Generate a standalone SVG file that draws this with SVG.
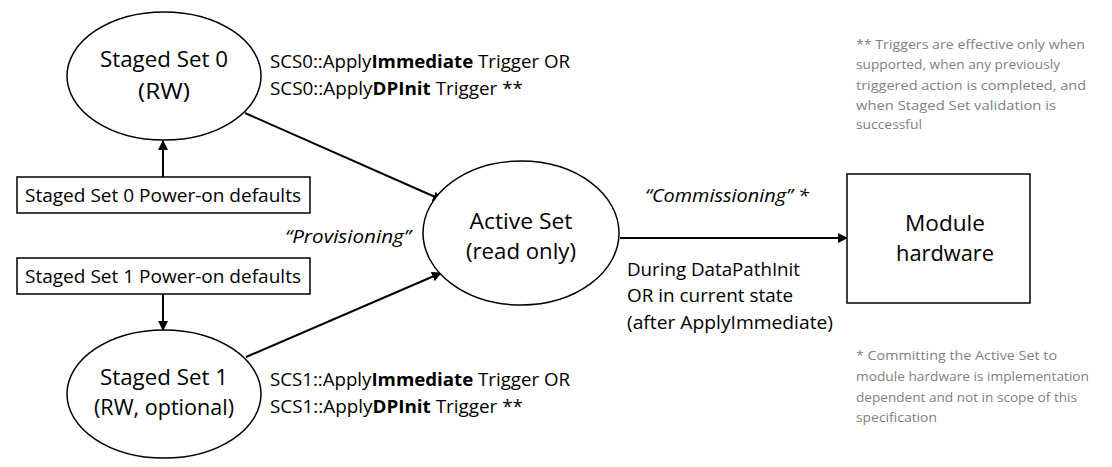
<svg xmlns="http://www.w3.org/2000/svg" width="1112" height="467" viewBox="0 0 1112 467">
<defs>
<marker id="ah" markerWidth="10" markerHeight="10" refX="9" refY="5" orient="auto" markerUnits="userSpaceOnUse" viewBox="0 0 10 10">
<path d="M0,0 L10,5 L0,10 z" fill="#000"/>
</marker>
<style>
text{font-family:"Open Sans","Noto Sans",sans-serif;fill:#000}
.shape{fill:#fff;stroke:#000;stroke-width:1.5}
.big{font-size:22px}
.mid{font-size:18px}
.note{font-size:13.5px;fill:#7f7f7f}
.conn{stroke:#000;stroke-width:2;fill:none;marker-end:url(#ah)}
.b{font-weight:bold}
.i{font-style:italic}
</style>
</defs>
<rect width="1112" height="467" fill="#fff"/>
<g id="connectors">
<line class="conn" x1="163" y1="178" x2="163" y2="141"/>
<line class="conn" x1="163" y1="294" x2="163" y2="330"/>
<line class="conn" x1="245" y1="113" x2="442" y2="200"/>
<line class="conn" x1="246" y1="357" x2="441" y2="273"/>
<line class="conn" x1="620" y1="238" x2="847" y2="238"/>
</g>
<g id="staged0">
<ellipse class="shape" cx="164" cy="76" rx="97" ry="64"/>
<text class="big" x="164" y="67" text-anchor="middle" textLength="128" lengthAdjust="spacingAndGlyphs">Staged Set 0</text>
<text class="big" x="164" y="99" text-anchor="middle" textLength="52" lengthAdjust="spacingAndGlyphs">(RW)</text>
</g>
<g id="defaults0">
<rect class="shape" x="17" y="177" width="293" height="36"/>
<text class="mid" x="163" y="202" text-anchor="middle" textLength="276" lengthAdjust="spacingAndGlyphs">Staged Set 0 Power-on defaults</text>
</g>
<g id="defaults1">
<rect class="shape" x="17" y="258" width="293" height="36"/>
<text class="mid" x="163" y="283" text-anchor="middle" textLength="276" lengthAdjust="spacingAndGlyphs">Staged Set 1 Power-on defaults</text>
</g>
<g id="staged1">
<ellipse class="shape" cx="164" cy="394" rx="97" ry="64"/>
<text class="big" x="164" y="385" text-anchor="middle" textLength="128" lengthAdjust="spacingAndGlyphs">Staged Set 1</text>
<text class="big" x="164" y="415" text-anchor="middle" textLength="140" lengthAdjust="spacingAndGlyphs">(RW, optional)</text>
</g>
<g id="active">
<ellipse class="shape" cx="521" cy="233" rx="98" ry="72"/>
<text class="big" x="521" y="229" text-anchor="middle" textLength="103" lengthAdjust="spacingAndGlyphs">Active Set</text>
<text class="big" x="521" y="259" text-anchor="middle" textLength="110" lengthAdjust="spacingAndGlyphs">(read only)</text>
</g>
<g id="module">
<rect class="shape" x="847" y="174" width="183" height="129"/>
<text class="big" x="945" y="231" text-anchor="middle" textLength="80" lengthAdjust="spacingAndGlyphs">Module</text>
<text class="big" x="945" y="261" text-anchor="middle" textLength="98" lengthAdjust="spacingAndGlyphs">hardware</text>
</g>
<g id="labels">
<text class="mid" x="270" y="68" textLength="300" lengthAdjust="spacingAndGlyphs">SCS0::Apply<tspan class="b">Immediate</tspan> Trigger OR</text>
<text class="mid" x="270" y="95" textLength="253" lengthAdjust="spacingAndGlyphs">SCS0::Apply<tspan class="b">DPInit</tspan> Trigger **</text>
<text class="mid" x="270" y="386" textLength="300" lengthAdjust="spacingAndGlyphs">SCS1::Apply<tspan class="b">Immediate</tspan> Trigger OR</text>
<text class="mid" x="270" y="413" textLength="253" lengthAdjust="spacingAndGlyphs">SCS1::Apply<tspan class="b">DPInit</tspan> Trigger **</text>
<text class="mid i" x="285" y="243" textLength="126" lengthAdjust="spacingAndGlyphs">“Provisioning”</text>
<text class="mid i" x="645" y="202" textLength="164" lengthAdjust="spacingAndGlyphs">“Commissioning” *</text>
<text class="mid" x="627" y="276" textLength="173" lengthAdjust="spacingAndGlyphs">During DataPathInit</text>
<text class="mid" x="627" y="302" textLength="166" lengthAdjust="spacingAndGlyphs">OR in current state</text>
<text class="mid" x="627" y="329" textLength="206" lengthAdjust="spacingAndGlyphs">(after ApplyImmediate)</text>
</g>
<g id="note1">
<text class="note" x="856" y="49" textLength="229" lengthAdjust="spacingAndGlyphs">** Triggers are effective only when</text>
<text class="note" x="856" y="69" textLength="204" lengthAdjust="spacingAndGlyphs">supported, when any previously</text>
<text class="note" x="856" y="90" textLength="230" lengthAdjust="spacingAndGlyphs">triggered action is completed, and</text>
<text class="note" x="856" y="110" textLength="200" lengthAdjust="spacingAndGlyphs">when Staged Set validation is</text>
<text class="note" x="856" y="129" textLength="66" lengthAdjust="spacingAndGlyphs">successful</text>
</g>
<g id="note2">
<text class="note" x="856" y="360" textLength="201" lengthAdjust="spacingAndGlyphs">* Committing the Active Set to</text>
<text class="note" x="856" y="381" textLength="233" lengthAdjust="spacingAndGlyphs">module hardware is implementation</text>
<text class="note" x="856" y="402" textLength="221" lengthAdjust="spacingAndGlyphs">dependent and not in scope of this</text>
<text class="note" x="856" y="422" textLength="81" lengthAdjust="spacingAndGlyphs">specification</text>
</g>
</svg>
